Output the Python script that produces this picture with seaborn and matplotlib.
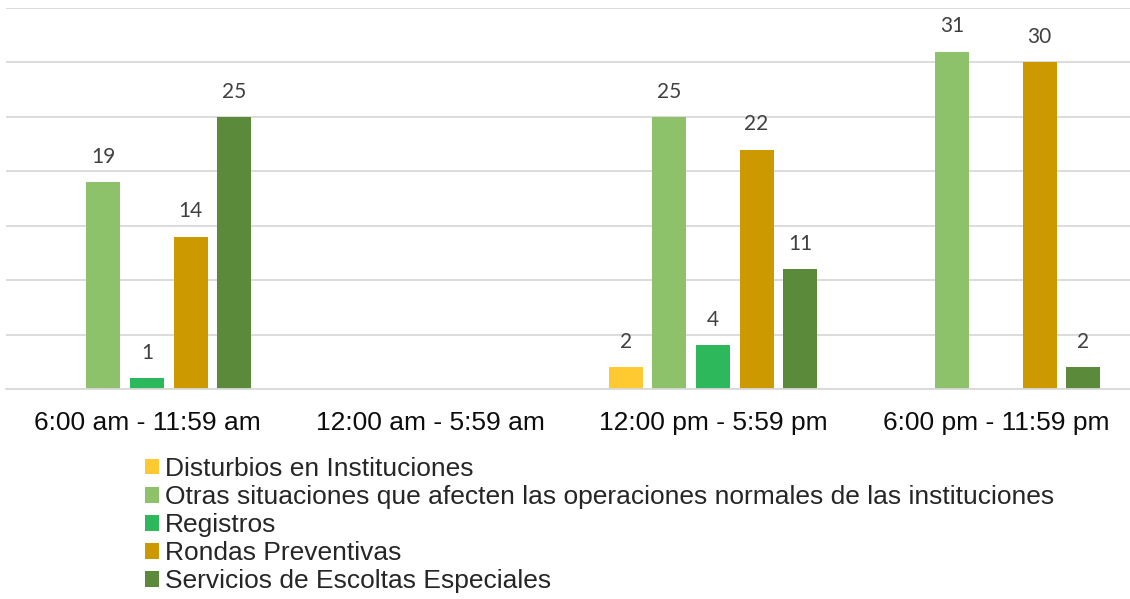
import numpy as np
import pandas as pd
import matplotlib
matplotlib.use("Agg")
import matplotlib.pyplot as plt
import seaborn as sns

categories = ["6:00 am - 11:59 am", "12:00 am - 5:59 am", "12:00 pm - 5:59 pm", "6:00 pm - 11:59 pm"]
series = [
    "Disturbios en Instituciones",
    "Otras situaciones que afecten las operaciones normales de las instituciones",
    "Registros",
    "Rondas Preventivas",
    "Servicios de Escoltas Especiales",
]
disturbios = [0, 0, 2, 0]
otras = [19, 0, 25, 31]
registros = [1, 0, 4, 0]
rondas = [14, 0, 22, 30]
escoltas = [25, 0, 11, 2]
colors = ["#FFC931", "#8DC26A", "#2DB85B", "#CC9A00", "#5B8A3B"]

values = [disturbios, otras, registros, rondas, escoltas]
rows = []
for s, vals in zip(series, values):
    for c, v in zip(categories, vals):
        rows.append({"franja": c, "tipo": s, "casos": v})
df = pd.DataFrame(rows)

sns.set_theme(style="white")
plt.rcParams["font.family"] = ["Liberation Sans", "DejaVu Sans"]

fig = plt.figure(figsize=(11.3, 5.99), dpi=100)
ax = fig.add_axes([5.5 / 1130, (599 - 389) / 599, 1 - 5.5 / 1130, (389 - 8) / 599])

sns.barplot(data=df, x="franja", y="casos", hue="tipo", order=categories,
            hue_order=series, palette=colors, saturation=1, width=0.77, gap=0.22,
            linewidth=0, errorbar=None, ax=ax)

for cont, vals in zip(ax.containers, values):
    labels = [str(v) if v > 0 else "" for v in vals]
    ax.bar_label(cont, labels=labels, padding=11, fontsize=15,
                 color="#404040", family=["Lato", "DejaVu Sans"])

ax.set_ylim(0, 35)
ax.set_xlim(-0.5, (1130 - 147) / 283)
ax.set_yticks(np.arange(0, 36, 5))
ax.set_yticklabels([])
ax.tick_params(axis="y", length=0)
ax.tick_params(axis="x", length=0, pad=16, labelsize=19, labelcolor="#0D0D0D")
ax.yaxis.grid(True, color="#D9D9D9", linewidth=1.3)
ax.set_axisbelow(True)
for s in ["top", "left", "right"]:
    ax.spines[s].set_visible(False)
ax.spines["bottom"].set_color("#D9D9D9")
ax.spines["bottom"].set_linewidth(1.3)
ax.set_xlabel("")
ax.set_ylabel("")

h, l = ax.get_legend_handles_labels()
if ax.legend_ is not None:
    ax.legend_.remove()
fig.legend(h, l, loc="upper left", bbox_to_anchor=(145 / 1130, (599 - 457) / 599),
           frameon=False, fontsize=19, handlelength=0.53, handleheight=0.53,
           handletextpad=0.23, labelspacing=0.155, borderpad=0, borderaxespad=0)

fig.savefig("out.png", dpi=100)
